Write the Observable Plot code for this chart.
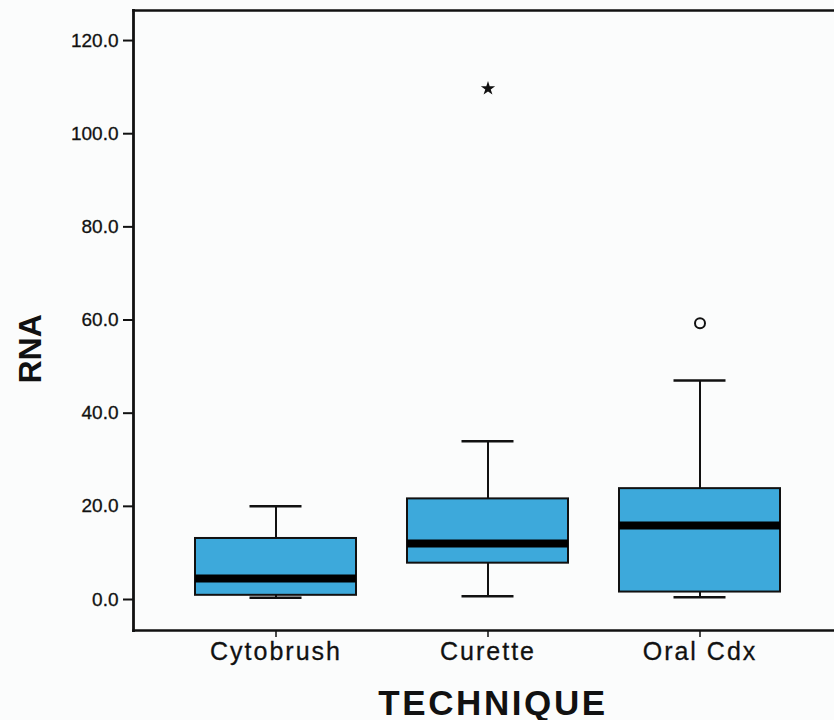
<!DOCTYPE html>
<html>
<head>
<meta charset="utf-8">
<script src="https://cdn.jsdelivr.net/npm/d3@7"></script>
<script src="https://cdn.jsdelivr.net/npm/@observablehq/plot@0.6"></script>
<style>
  html, body { margin: 0; padding: 0; background: #fbfcfc; overflow: hidden; }
  #chart svg { display: block; }
  #chart svg [aria-label="x-axis tick label"] text { letter-spacing: 2px; stroke: #111; stroke-width: 0.3px; }
  #chart svg [aria-label="y-axis tick label"] text { stroke: #111; stroke-width: 0.3px; }
  #chart svg .axis-title text { letter-spacing: 2.6px; }
</style>
</head>
<body>
<div id="chart"></div>
<script>
// RNA yield by sampling technique (box plot summary statistics)
const techniques   = ["Cytobrush", "Curette", "Oral Cdx"];
const whiskerLow   = [0.4, 0.7, 0.5];
const quartile1    = [0.9, 7.8, 1.6];
const medians      = [4.5, 12.0, 15.9];
const quartile3    = [13.1, 21.6, 23.8];
const whiskerHigh  = [20.0, 34.0, 47.0];

// points beyond the whiskers: extreme (*) and outlier (o)
const extremeTechnique = ["Curette"];
const extremeValues    = [109.7];
const outlierTechnique = ["Oral Cdx"];
const outlierValues    = [59.3];

const yTicks = [0, 20, 40, 60, 80, 100, 120];

const stats = techniques.map((t, i) => ({
  technique: t,
  lo: whiskerLow[i], q1: quartile1[i], med: medians[i], q3: quartile3[i], hi: whiskerHigh[i]
}));
const extremes = extremeTechnique.map((t, i) => ({technique: t, value: extremeValues[i]}));
const outliers = outlierTechnique.map((t, i) => ({technique: t, value: outlierValues[i]}));

const ink = "#111";
const font = "'Liberation Sans', Arial, Helvetica, sans-serif";

const chart = Plot.plot({
  width: 834,
  height: 720,
  marginLeft: 133,
  marginRight: 0,
  marginTop: 10,
  marginBottom: 90,
  style: {background: "#fbfcfc", fontFamily: font, color: ink},
  x: {domain: techniques, range: [194.5, 780.5], paddingInner: 0.242, paddingOuter: 0},
  y: {domain: [-6.655, 126.45]},
  marks: [
    Plot.frame({anchor: "left", stroke: ink, strokeWidth: 2.8}),
    Plot.frame({anchor: "top", stroke: ink, strokeWidth: 2.5}),
    Plot.frame({anchor: "bottom", stroke: ink, strokeWidth: 2.5}),
    Plot.axisY({ticks: yTicks, tickFormat: d3.format(".1f"), tickSize: 10, tickPadding: 5,
                fontSize: 19, label: null, stroke: ink, strokeWidth: 2}),
    Plot.axisX({tickSize: 7, tickPadding: 5, fontSize: 25, label: null, stroke: ink, strokeWidth: 1.5}),
    // whiskers
    Plot.ruleX(stats, {x: "technique", y1: "q3", y2: "hi", stroke: ink, strokeWidth: 2}),
    Plot.ruleX(stats, {x: "technique", y1: "lo", y2: "q1", stroke: ink, strokeWidth: 2}),
    Plot.tickY(stats, {x: "technique", y: "hi", stroke: ink, strokeWidth: 2.5, insetLeft: 54.5, insetRight: 54.5}),
    Plot.tickY(stats, {x: "technique", y: "lo", stroke: ink, strokeWidth: 2.5, insetLeft: 54.5, insetRight: 54.5}),
    // interquartile boxes
    Plot.barY(stats, {x: "technique", y1: "q1", y2: "q3", fill: "#3da9db", stroke: ink, strokeWidth: 2}),
    // medians
    Plot.tickY(stats, {x: "technique", y: "med", stroke: "#000", strokeWidth: 8}),
    // extreme values and outliers
    Plot.dot(extremes, {x: "technique", y: "value", symbol: "star", r: 4.5, fill: ink, stroke: "none"}),
    Plot.dot(outliers, {x: "technique", y: "value", symbol: "circle", r: 5, fill: "none", stroke: ink, strokeWidth: 2}),
    // axis titles
    Plot.text(["RNA"], {frameAnchor: "left", rotate: -90, dx: -103, dy: 63, fontSize: 32,
                        fontWeight: "bold", fill: ink}),
    Plot.text(["TECHNIQUE"], {frameAnchor: "bottom", dx: 9, dy: 84, fontSize: 35,
                              fontWeight: "bold", fill: ink, className: "axis-title"})
  ]
});

document.getElementById("chart").append(chart);
</script>
</body>
</html>
